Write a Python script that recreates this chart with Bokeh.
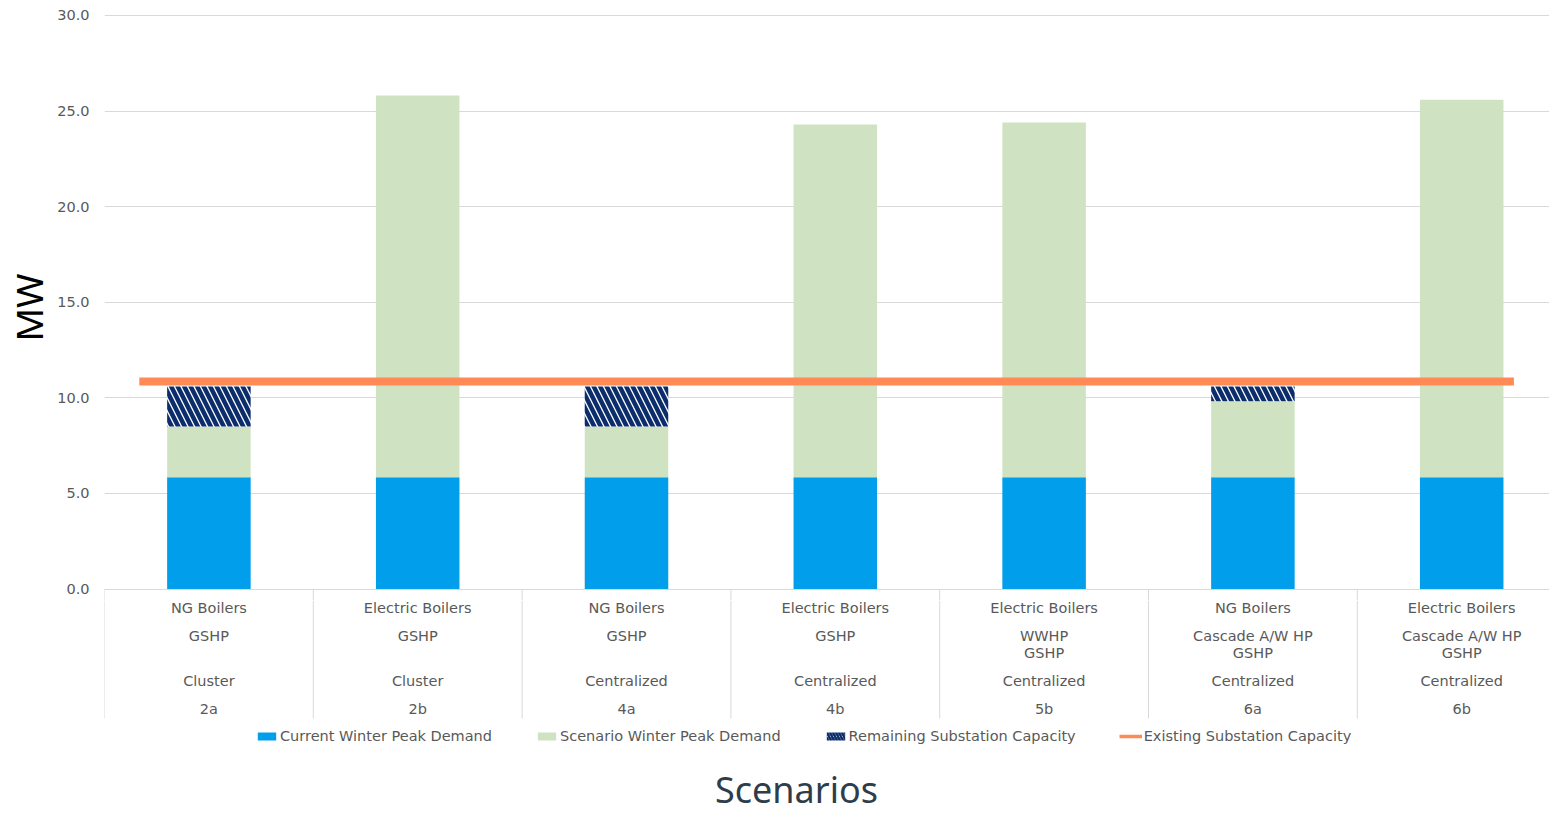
import numpy as np
from bokeh.plotting import figure
from bokeh.layouts import column
from bokeh.models import (ColumnDataSource, FixedTicker, NumeralTickFormatter,
                          Legend, LegendItem, Range1d)
from bokeh.core.properties import value
from bokeh.embed import file_html
from bokeh.resources import INLINE

# ---------------- data ----------------
scenario_ids = ["2a", "2b", "4a", "4b", "5b", "6a", "6b"]
peak_source = ["NG Boilers", "Electric Boilers", "NG Boilers", "Electric Boilers",
               "Electric Boilers", "NG Boilers", "Electric Boilers"]
heat_pumps = ["GSHP", "GSHP", "GSHP", "GSHP", "WWHP\nGSHP",
              "Cascade A/W HP\nGSHP", "Cascade A/W HP\nGSHP"]
network = ["Cluster", "Cluster", "Centralized", "Centralized", "Centralized",
           "Centralized", "Centralized"]
current_peak = [5.85, 5.85, 5.85, 5.85, 5.85, 5.85, 5.85]
scenario_peak = [2.65, 19.96, 2.65, 18.44, 18.55, 3.97, 19.74]
remaining_capacity = [2.09, 0.0, 2.09, 0.0, 0.0, 0.77, 0.0]
existing_capacity = 10.85
y_ticks = [0, 5, 10, 15, 20, 25, 30]

# ---------------- layout constants (pixels) ----------------
W, H = 1549, 815
LEFT, TOP = 104, 14
SPLIT = 600          # page row where the chart figure ends
PX_Y = 19.12         # pixels per MW
Y0_PX = 588.5        # page row of 0 MW
CAT_W = 208.8        # pixel width of one category
CAT0_PX = 208.4      # pixel centre of first category
SEP_END = 718        # page row where category separators end


def xpx(px):
    return (px - CAT0_PX) / CAT_W


BLUE = "#019EEB"
GREEN = "#CFE3C3"
NAVY = "#0B2D6B"
ORANGE = "#FF8A55"
GREY_TXT = "#595959"
GRID = "#D9D9D9"
FONT = "DejaVu Sans"
FS = "14.5px"

n = len(scenario_ids)
xs = np.arange(n)
cur = np.array(current_peak)
scn = np.array(scenario_peak)
rem = np.array(remaining_capacity)

src = ColumnDataSource(dict(
    x=xs,
    b0=np.zeros(n), t0=cur,
    b1=cur, t1=cur + scn,
    b2=cur + scn, t2=cur + scn + rem,
))

xr = Range1d(-0.5, -0.5 + (W - LEFT) / CAT_W)
bounds = np.arange(n + 1) - 0.5

# ---------------- chart figure ----------------
y_bottom = -(SPLIT - Y0_PX) / PX_Y
p = figure(width=W, height=SPLIT, output_backend="svg", toolbar_location=None,
           x_range=xr,
           y_range=(y_bottom, (Y0_PX - TOP) / PX_Y),
           min_border_left=LEFT, min_border_top=TOP,
           min_border_right=0, min_border_bottom=0)
p.outline_line_color = None
p.background_fill_color = "white"
p.border_fill_color = "white"

p.xaxis.visible = False
p.xgrid.visible = False
p.yaxis.ticker = FixedTicker(ticks=y_ticks)
p.ygrid.ticker = FixedTicker(ticks=y_ticks)
p.ygrid.grid_line_color = GRID
p.ygrid.grid_line_width = 1
p.yaxis.formatter = NumeralTickFormatter(format="0.0")
p.yaxis.axis_line_color = None
p.yaxis.major_tick_line_color = None
p.yaxis.major_tick_out = 0
p.yaxis.major_tick_in = 0
p.yaxis.minor_tick_line_color = None
p.yaxis.minor_tick_out = 0
p.yaxis.major_label_standoff = 15
p.yaxis.major_label_text_font = FONT
p.yaxis.major_label_text_font_size = FS
p.yaxis.major_label_text_color = GREY_TXT
p.yaxis.axis_label = "MW"
p.yaxis.axis_label_text_font = "Noto Sans"
p.yaxis.axis_label_text_font_size = "37px"
p.yaxis.axis_label_text_font_style = "normal"
p.yaxis.axis_label_text_color = "black"
p.yaxis.axis_label_standoff = 0

# separator stubs just below the zero line
p.segment(x0=bounds, y0=np.zeros(n + 1), x1=bounds, y1=np.full(n + 1, y_bottom),
          line_color=GRID, line_width=1)

BW = 0.40
bar_styles = [
    dict(fill_color=BLUE, line_color=None),
    dict(fill_color=GREEN, line_color=None),
    dict(fill_color="white", line_color=None, hatch_pattern="\\",
         hatch_color=NAVY, hatch_scale=13, hatch_weight=4.5),
]
p.vbar(x="x", bottom="b0", top="t0", width=BW, source=src, **bar_styles[0])
p.vbar(x="x", bottom="b1", top="t1", width=BW, source=src, **bar_styles[1])
p.vbar(x="x", bottom="b2", top="t2", width=BW, source=src, **bar_styles[2])

p.line(x=[xs[0] - 1 / 3, xs[-1] + 0.25],
       y=[existing_capacity, existing_capacity],
       line_color=ORANGE, line_width=8)

# ---------------- category axis / legend figure ----------------
q = figure(width=W, height=H - SPLIT, output_backend="svg", toolbar_location=None,
           x_range=xr, y_range=(-H, -SPLIT),
           min_border_left=LEFT, min_border_top=0,
           min_border_right=0, min_border_bottom=0)
q.outline_line_color = None
q.axis.visible = False
q.grid.visible = False
q.background_fill_color = "white"
q.border_fill_color = "white"

q.segment(x0=bounds, y0=np.full(n + 1, -SPLIT), x1=bounds,
          y1=np.full(n + 1, -SEP_END), line_color=GRID, line_width=1)

hp1 = [h.split("\n")[0] for h in heat_pumps]
hp2 = [h.split("\n")[1] if "\n" in h else "" for h in heat_pumps]
rows = [(peak_source, 607), (hp1, 635), (hp2, 652), (network, 680), (scenario_ids, 708)]
for texts, py in rows:
    q.text(x=xs, y=np.full(n, -py), text=texts,
           text_font=value(FONT), text_font_size=FS, text_color=GREY_TXT,
           text_align="center", text_baseline="middle")

q.text(x=[xpx(796)], y=[-789], text=["Scenarios"],
       text_font=value("Noto Sans"), text_font_size="36px", text_color="#2E3D4B",
       text_align="center", text_baseline="middle")

# legend keys, styled like the chart's marks and parked outside the view
key_src = ColumnDataSource(dict(x=[-20.0, -19.0], b=[-2000.0, -2000.0],
                                t=[-1999.0, -1999.0]))
k_cur = q.vbar(x="x", bottom="b", top="t", width=BW, source=key_src, **bar_styles[0])
k_scn = q.vbar(x="x", bottom="b", top="t", width=BW, source=key_src, **bar_styles[1])
k_rem = q.vbar(x="x", bottom="b", top="t", width=BW, source=key_src,
               fill_color="white", line_color=None, hatch_pattern="\\",
               hatch_color=NAVY, hatch_scale=6, hatch_weight=2.5)
k_cap = q.line(x="x", y="b", source=key_src, line_color=ORANGE, line_width=3.5)

legend = Legend(items=[
    LegendItem(label="Current Winter Peak Demand", renderers=[k_cur]),
    LegendItem(label="Scenario Winter Peak Demand", renderers=[k_scn]),
    LegendItem(label="Remaining Substation Capacity", renderers=[k_rem]),
    LegendItem(label="Existing Substation Capacity", renderers=[k_cap]),
], orientation="horizontal", location=(151, 71))
legend.border_line_color = None
legend.background_fill_alpha = 0
legend.padding = 0
legend.margin = 0
legend.spacing = 43
legend.glyph_width = 23
legend.glyph_height = 10
legend.label_height = 14
legend.label_standoff = 2
legend.label_text_font = FONT
legend.label_text_font_size = FS
legend.label_text_color = GREY_TXT
q.add_layout(legend)

layout = column(p, q, spacing=0)
open("out.html", "w").write(file_html(layout, INLINE))
